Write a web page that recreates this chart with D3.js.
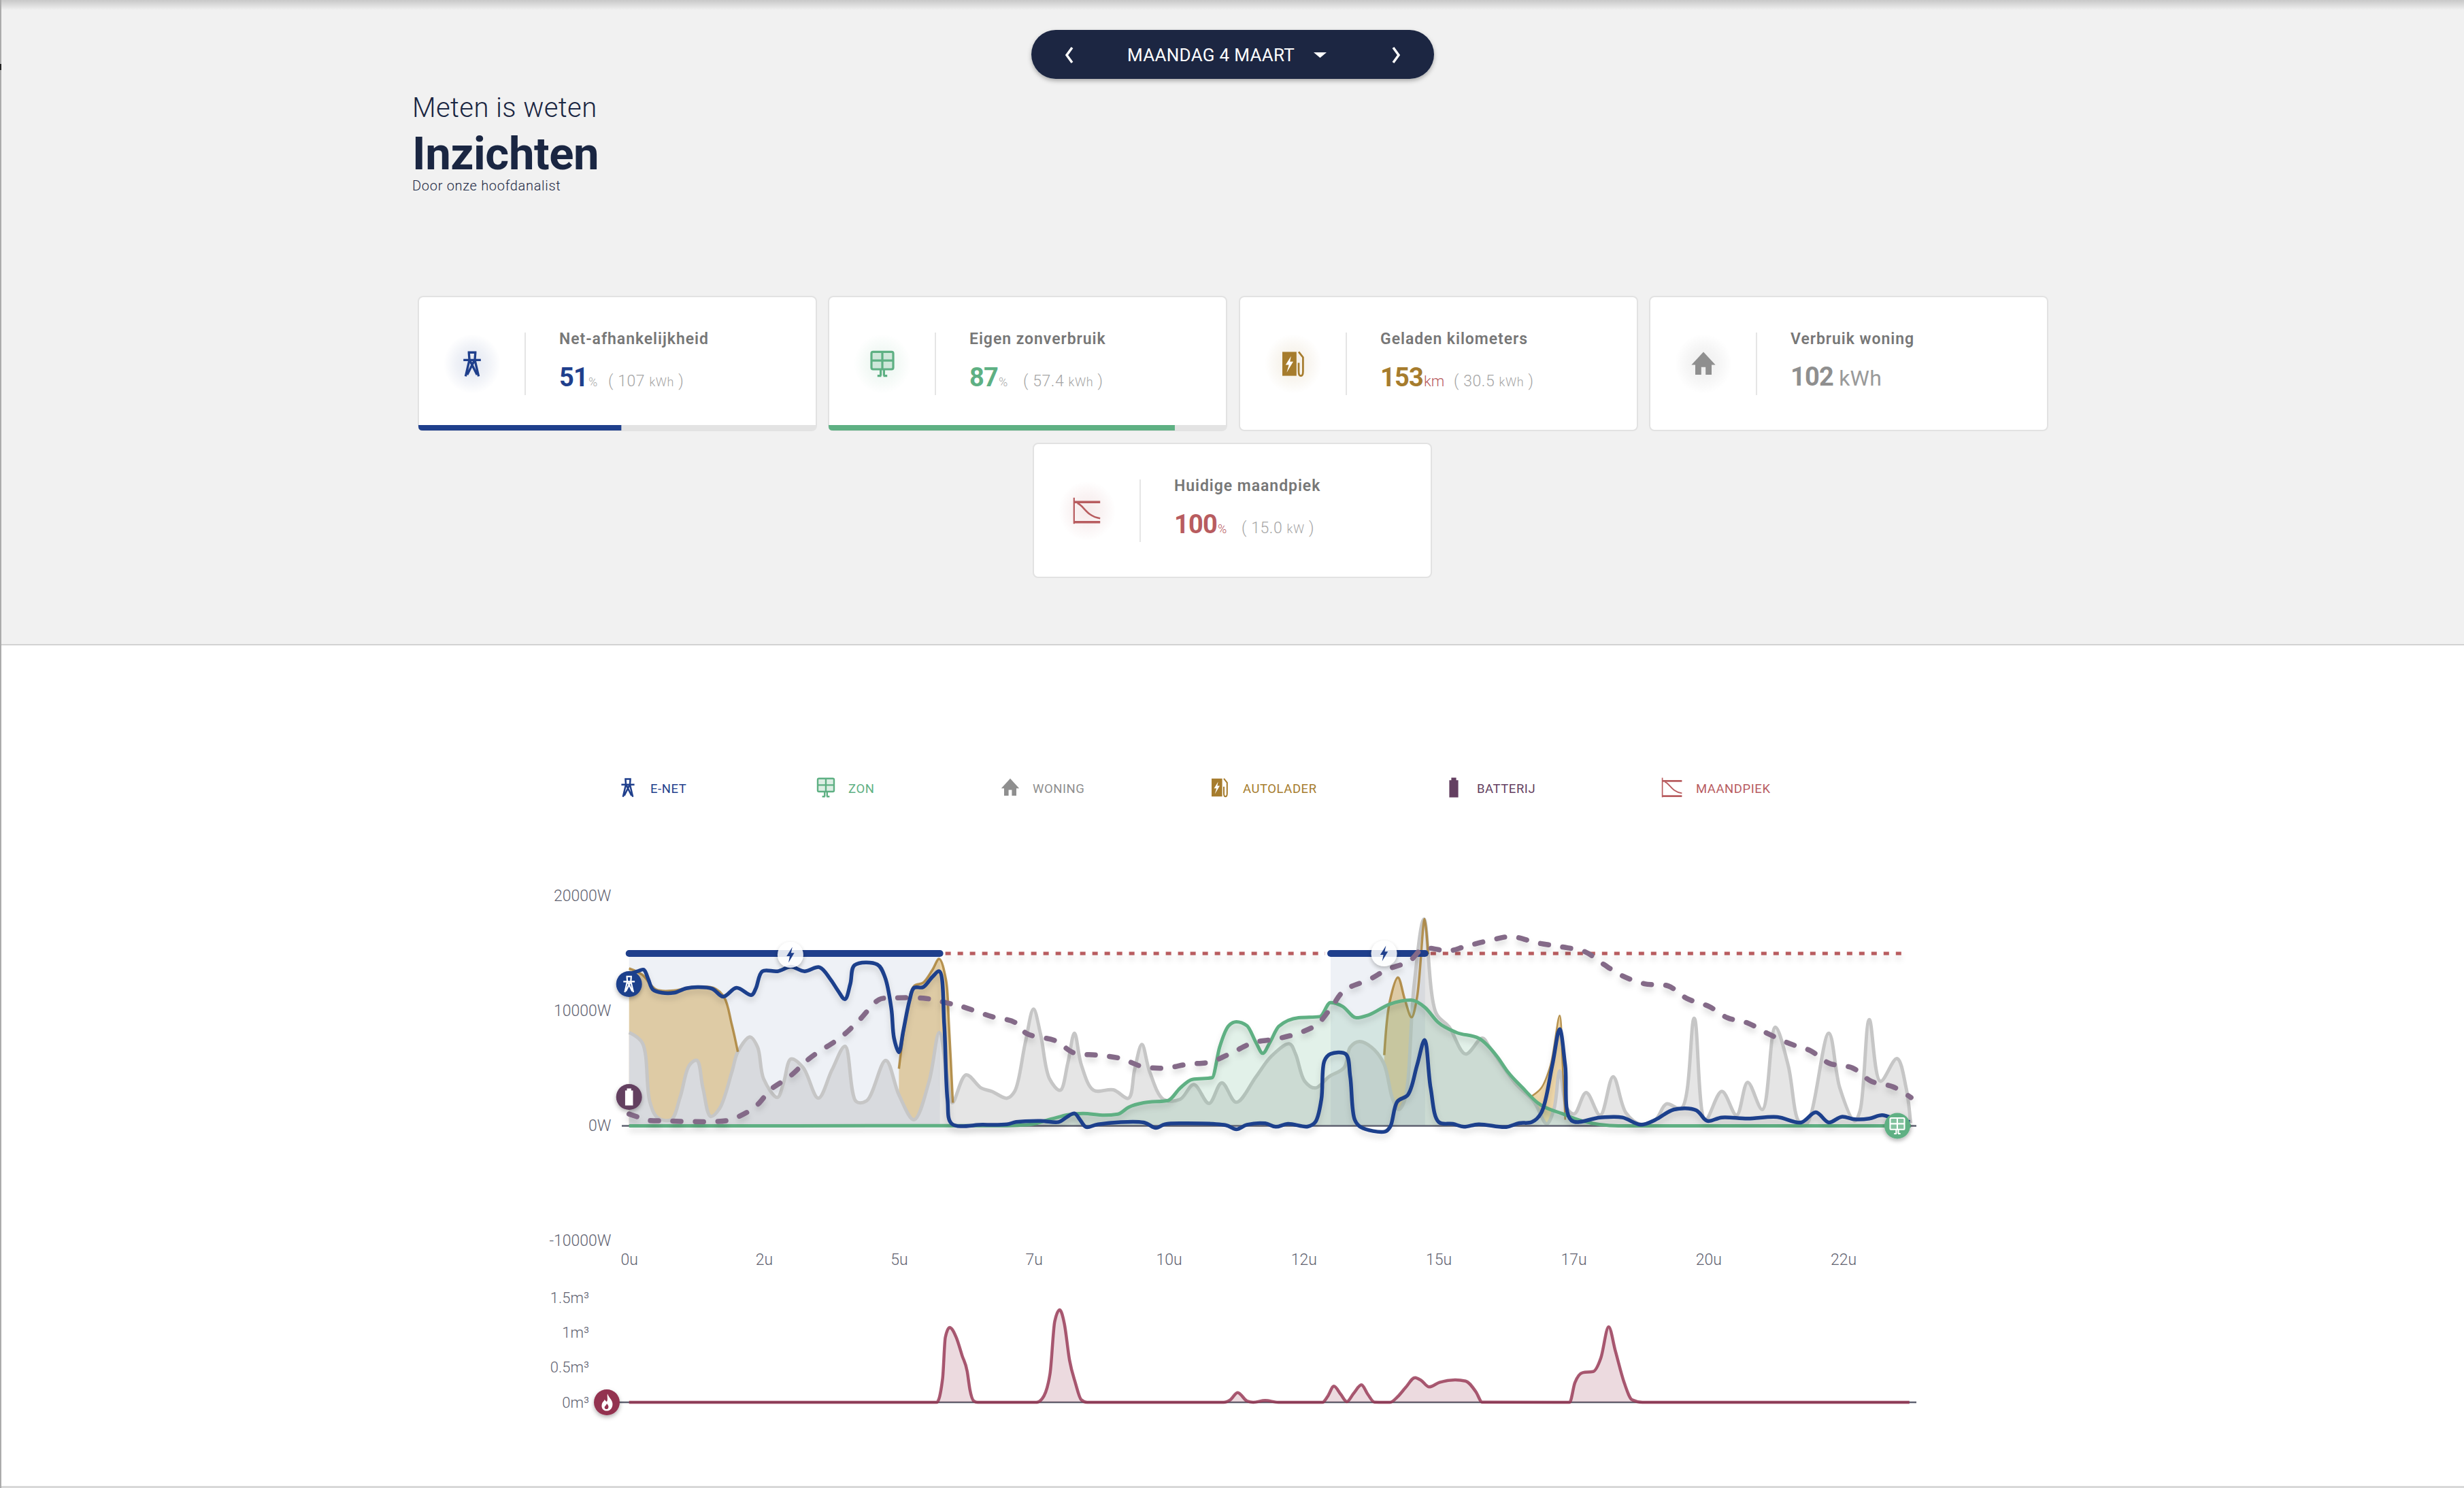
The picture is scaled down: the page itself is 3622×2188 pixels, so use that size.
<!DOCTYPE html>
<html><head><meta charset="utf-8">
<script src="https://cdn.jsdelivr.net/npm/d3@7/dist/d3.min.js"></script>
<style>
html,body{margin:0;padding:0;background:#fff;overflow:hidden}
svg{display:block}
text{font-family:Roboto,sans-serif}
</style></head><body><svg id="c" width="3622" height="2188" viewBox="0 0 3622 2188"></svg>
<script>
// ---- data (hours of day, watts) ----
const xTickHours=[0,2.5,5,7.5,10,12.5,15,17.5,20,22.5];
const powerTicks=[-10000,0,10000,20000];
const gasTicks=[0,0.5,1,1.5];
const peakLimit=15000;
const peakBandStart=[0,13.0];
const peakBandEnd=[5.76,14.75];
const peakDotStart=[5.76,14.75];
const peakDotEnd=[13.0,23.8];

const homeH=[0,.244,.384,.525,.778,.947,1.116,1.256,1.369,1.51,1.678,1.904,2.016,2.241,2.382,2.494,2.748,2.86,3,3.226,3.507,3.76,4.003,4.21,4.408,4.757,5,5.28,5.56,5.747,5.9,5.991,6.244,6.526,6.723,7.004,7.145,7.342,7.494,7.623,7.792,7.989,8.13,8.253,8.383,8.608,8.974,9.255,9.367,9.503,9.649,9.902,10.21,10.465,10.746,10.983,11.253,11.618,11.9,12.237,12.35,12.519,12.716,12.969,13.25,13.363,13.532,13.757,13.982,14.151,14.263,14.376,14.545,14.73,14.955,15.194,15.5,15.809,15.946,16.424,16.765,17.004,17.141,17.244,17.38,17.517,17.735,17.995,18.234,18.473,18.746,19.019,19.224,19.498,19.737,19.942,20.249,20.522,20.727,21,21.239,21.478,21.683,21.82,22.23,22.435,22.708,22.81,22.981,23.186,23.494,23.664,23.746];
const homeW=[8125,7237,2110,730,532,2504,5265,5699,3293,828,1518,4674,6448,7730,6843,4082,2465,3688,5817,5068,2406,4871,6922,2110,2209,5699,2702,532,3885,8125,4082,2011,4437,3293,2997,2406,2997,7237,10156,8026,4082,3096,5462,8065,5265,3096,3135,2406,4871,7079,4674,2307,2307,3589,1952,3747,2051,4279,6054,7139,6251,3885,3293,4279,5068,6843,7336,6843,5462,2307,1420,2307,12167,17985,9800,8618,6251,7632,6843,3688,2110,177,1518,4772,1518,1045,2899,927,4279,1124,138,532,1913,1518,9367,532,2997,927,3786,1420,8578,5265,335,177,8065,3293,434,1321,9249,3885,5857,3293,237];

const chargeH=[[0,.244,.497,.83,1.17,1.566,1.763,1.904,2.016],[5,5.139,5.28,5.449,5.618,5.747,5.871,5.927,6],[13.993,14.094,14.247,14.376,14.5,14.601,14.742,14.805],[16.731,16.902,17.073,17.244,17.298,17.346]];
const chargeW=[[13705,13153,11871,11773,12069,12009,11181,8815,6448],[4970,9604,12167,12463,13548,14534,12759,8815,2011],[6153,10787,12917,10984,9446,11181,17985,14928],[2603,3293,5265,9604,5265,532]];

const gridH=[0,.159,.27,.356,.44,.61,.83,1.06,1.28,1.54,1.746,1.99,2.27,2.35,2.47,2.75,3,3.25,3.53,3.73,3.87,4,4.1,4.18,4.6,4.74,4.86,4.91,5,5.08,5.2,5.28,5.45,5.62,5.75,5.84,5.9,5.98,6.554,7.004,7.173,7.623,7.961,8.101,8.253,8.355,8.467,8.692,9.536,9.761,9.93,10.268,11.056,11.253,11.45,11.787,11.984,12.209,12.575,12.716,12.828,12.885,12.997,13.279,13.363,13.447,13.56,14.01,14.106,14.235,14.432,14.601,14.742,14.853,15.003,15.263,15.468,15.741,16.253,16.492,16.731,16.902,17.107,17.244,17.346,17.462,17.995,18.405,18.746,19.019,19.361,19.771,19.976,20.249,20.727,21.274,21.717,21.99,22.23,22.469,22.708,22.981,23.22,23.494,23.733];
const gridW=[13200,13450,13590,12760,11870,11580,11580,11970,12070,11930,11240,12010,11380,11970,13450,13450,13840,13450,13800,12760,11770,11020,12360,13980,14040,12960,10200,7630,6410,8220,10980,12010,12070,12960,13450,8810,2310,180,99,138,335,434,335,730,1085,532,-99,138,296,-177,138,217,59,-296,99,217,-79,177,-59,335,2307,5660,6251,6251,4279,532,-118,-493,-59,2110,2702,5265,7474,3293,335,177,-79,138,-99,237,335,1124,5265,8420,5265,473,730,730,99,532,1420,1361,434,730,631,769,296,1183,296,789,572,631,927,532,335];

const solarH=[0,7.004,7.398,7.848,8.13,8.411,8.805,9.058,9.255,9.536,9.987,10.212,10.437,10.802,10.943,11.112,11.253,11.45,11.618,11.742,11.872,12.04,12.406,12.8,12.997,13.222,13.475,13.7,14.094,14.489,14.75,14.99,15.331,15.741,16.082,16.287,16.56,16.834,17.312,17.653,18.336,23.75];
const solarW=[0,20,99,631,966,1085,927,1025,1617,2011,2209,3293,4043,4181,6843,8716,9051,8716,7237,6310,7237,8657,9406,9505,10728,10392,9406,9643,10590,10945,10294,9012,8125,7632,6054,4674,3293,2011,1025,434,0,0];

const socH=[0,.187,.328,.694,1.116,1.538,1.876,2.326,2.635,2.973,3.367,3.93,4.267,4.633,4.858,5.505,5.9,6.16,6.723,7.145,7.37,7.904,8.242,8.692,9.114,9.508,9.93,10.352,10.774,11.168,11.562,11.956,12.378,12.744,13.025,13.25,13.729,14.038,14.46,14.716,15.194,15.5,16.014,16.356,16.834,17.278,17.722,18.063,18.405,18.815,19.259,19.6,20.01,20.351,20.727,21.103,21.513,21.888,22.23,22.674,23.015,23.426,23.753];
const socW=[1025,730,493,434,375,375,532,1617,3195,4279,5955,7730,9209,10984,11122,11083,10688,10392,9505,9012,8026,7395,6350,6153,5857,5167,5029,5364,5561,6350,7237,7533,8026,8815,10392,11773,12759,13587,14337,15421,15224,15618,16210,16466,15914,15579,15125,14041,13054,12364,12167,11083,10392,9406,8953,8026,7139,6547,5462,5029,3885,3392,2465];

const gasH=[0,5.701,5.81,5.86,5.94,6.063,6.172,6.266,6.316,6.389,6.461,7.547,7.655,7.8,7.887,7.98,8.067,8.162,8.27,8.379,8.487,11.016,11.14,11.276,11.45,11.565,11.787,12.03,12.848,12.944,13.06,13.185,13.3,13.427,13.571,13.687,13.812,14.1,14.246,14.391,14.564,14.68,14.825,15.018,15.307,15.5,15.693,15.808,17.428,17.525,17.67,17.862,18.007,18.152,18.277,18.441,18.586,18.778,23.725];
const gasV=[0,0,.344,.929,1.071,.929,.669,.442,.182,.019,0,0,.052,.409,1.156,1.325,1.123,.604,.279,.036,0,0,.036,.14,.019,0,.026,0,0,.084,.231,.117,.01,.13,.25,.117,.003,0,.084,.214,.354,.312,.221,.286,.321,.305,.149,.003,0,.279,.425,.44,.636,1.08,.734,.279,.036,0,0];

const xTickLabel=h=>Math.floor(h)+"u";
const legendNames=["E-NET","ZON","WONING","AUTOLADER","BATTERIJ","MAANDPIEK"];
const cardTitles=["Net-afhankelijkheid","Eigen zonverbruik","Geladen kilometers","Verbruik woning","Huidige maandpiek"];
const cardValues=["51","87","153","102","100"];
const cardUnits=["%","%","km"," kWh","%"];
const cardDetail=["107","57.4","30.5","","15.0"];
const cardDetailUnit=["kWh","kWh","kWh","","kW"];
const cardProgress=[51,87,null,null,null];

// ---- colours ----
const navy="#1a2642",blue="#1f3f8c",green="#5eb083",gold="#a67c2d",grey="#8f8f8f",plum="#643f61",red="#b85c5f",gas="#93314f";
const svg=d3.select("#c");
const defs=svg.append("defs");
function shadow(id,dy,sd,op){const f=defs.append("filter").attr("id",id).attr("filterUnits","userSpaceOnUse").attr("x",0).attr("y",0).attr("width",3622).attr("height",2188);
 f.append("feDropShadow").attr("dx",0).attr("dy",dy).attr("stdDeviation",sd).attr("flood-color","#000").attr("flood-opacity",op);}
shadow("ls",6,4,.14);shadow("ps",3,3,.3);
const topGrad=defs.append("linearGradient").attr("id","tg").attr("x1",0).attr("y1",0).attr("x2",0).attr("y2",1);
topGrad.append("stop").attr("offset",0).attr("stop-color","#c8c8c8");
topGrad.append("stop").attr("offset",1).attr("stop-color","#f1f1f1");
[["h0",blue],["h1",green],["h2",gold],["h3","#777"],["h4",red]].forEach(([id,c])=>{
 const g=defs.append("radialGradient").attr("id",id);
 g.append("stop").attr("offset",0).attr("stop-color",c).attr("stop-opacity",.13);
 g.append("stop").attr("offset",.55).attr("stop-color",c).attr("stop-opacity",.07);
 g.append("stop").attr("offset",1).attr("stop-color",c).attr("stop-opacity",0);
});

// ---- icons, in a 24-unit box centred on 0,0 ----
const icons={
 tower:(g,c)=>{g.append("path").attr("fill","none").attr("stroke",c).attr("stroke-width",2.1).attr("d","M-4-10.5H4M-3-10.5L-2.5-4M3-10.5L2.5-4M-8-3.5H8M-2.5-3.5L-6 11.5M2.5-3.5L6 11.5M-2-3L4.5 10M2-3L-4.5 10");},
 solar:(g,c)=>{g.append("rect").attr("x",-10).attr("y",-11).attr("width",20).attr("height",16).attr("rx",1.5).attr("fill",c).attr("fill-opacity",.22).attr("stroke",c).attr("stroke-width",2);
   g.append("path").attr("stroke",c).attr("stroke-width",2).attr("fill","none").attr("d","M0-11V5M-10-3H10M-1.5 5V11M1.5 5V11M-4.5 11H-1M1 11H4.5");},
 house:(g,c)=>{g.append("path").attr("fill",c).attr("d","M0-11L11 1H7.5V10H2V3H-2V10H-7.5V1H-11Z");},
 charger:(g,c)=>{g.append("path").attr("fill",c).attr("d","M-10-11H3V11H-10Z");
   g.append("path").attr("fill","#fff").attr("d","M-2-7L-7 1H-4L-6 8L0-2H-3Z");
   g.append("path").attr("fill","none").attr("stroke",c).attr("stroke-width",1.7).attr("d","M5-11L9-6V7Q9 11 7 11T5 7V-1");},
 battery:(g,c)=>{g.append("path").attr("fill",c).attr("d","M-3-12H3V-9H5.5V12H-5.5V-9H-3Z");},
 peak:(g,c)=>{g.append("path").attr("fill","none").attr("stroke",c).attr("stroke-width",1.4).attr("d","M-12-12V12");
   g.append("path").attr("fill","none").attr("stroke",c).attr("stroke-width",2.2).attr("d","M-12 10.5H12M-12-8H12");
   g.append("path").attr("fill","none").attr("stroke",c).attr("stroke-width",1.6).attr("d","M-9-7C-3-5-1 5 12 7");},
 flame:(g,c)=>{g.append("path").attr("fill",c).attr("d","M1-12C3-6 9-3 8 4C7 10 3 12 0 12C-5 12-8 8-7 3C-6-1-4-1-3-4C-2-2-1-1 0-1C2-4 0-8 1-12Z");
   g.append("path").attr("fill","#93314f").attr("d","M0 2C2 4 3 6 2 8C1 10-2 10-3 8C-4 6-1 5 0 2Z");},
 bolt:(g,c)=>{g.append("path").attr("fill",c).attr("d","M3-12L-6 2H-1L-3 12L6-3H1Z");}
};
function icon(name,x,y,s,c){const g=svg.append("g").attr("transform",`translate(${x},${y}) scale(${s})`);icons[name](g,c);return g;}

// ---- page chrome ----
svg.append("rect").attr("width",3622).attr("height",947).attr("fill","#f1f1f1");
svg.append("rect").attr("width",3622).attr("height",15).attr("fill","url(#tg)");
svg.append("rect").attr("y",947).attr("width",3622).attr("height",2).attr("fill","#d2d2d2");
svg.append("rect").attr("y",2185).attr("width",3622).attr("height",3).attr("fill","#d8d8d8");
svg.append("rect").attr("width",2).attr("height",2188).attr("fill","#ababab");
svg.append("rect").attr("y",94).attr("width",2).attr("height",9).attr("fill","#222");
svg.append("rect").attr("x",1516).attr("y",44).attr("width",592).attr("height",72).attr("rx",36).attr("fill",navy).attr("filter","url(#ps)");
svg.append("text").attr("x",1780).attr("y",90).attr("text-anchor","middle").attr("font-size",26).attr("font-weight",400).attr("letter-spacing",.3).attr("fill","#fff").text("MAANDAG 4 MAART");
svg.append("path").attr("fill","none").attr("stroke","#fff").attr("stroke-width",3.5).attr("d","M1576 70L1568 81L1576 92M2048 70L2056 81L2048 92");
svg.append("path").attr("fill","#fff").attr("d","M1931 77H1950L1940.5 85Z");
svg.append("text").attr("x",606).attr("y",172).attr("font-size",40).attr("font-weight",300).attr("letter-spacing",.4).attr("fill",navy).text("Meten is weten");
svg.append("text").attr("x",606).attr("y",249).attr("font-size",67).attr("font-weight",700).attr("letter-spacing",-.4).attr("fill",navy).text("Inzichten");
svg.append("text").attr("x",606).attr("y",280).attr("font-size",20).attr("font-weight",300).attr("letter-spacing",.7).attr("fill",navy).text("Door onze hoofdanalist");

// ---- cards ----
const cardX=[615,1218,1822,2425,1519],cardY=[436,436,436,436,652];
const cardColour=[blue,green,gold,grey,red],cardIcon=["tower","solar","charger","house","peak"];
const detailX=[279,286,315,0,306];
cardTitles.forEach((t,i)=>{
 const x=cardX[i],y=cardY[i];
 const g=svg.append("g").attr("transform",`translate(${x},${y})`);
 g.append("rect").attr("x",0).attr("y",0).attr("width",585).attr("height",197).attr("rx",7).attr("fill","#fff").attr("stroke","#e2e2e2").attr("stroke-width",2);
 if(cardProgress[i]!==null){
  g.append("path").attr("d","M0 189H585V191Q585 197 579 197H6Q0 197 0 191Z").attr("fill","#e3e3e3");
  const w=585*cardProgress[i]/100;
  g.append("path").attr("d",`M0 189H${w}V197H6Q0 197 0 191Z`).attr("fill",cardColour[i]);
 }
 g.append("ellipse").attr("cx",79).attr("cy",99).attr("rx",42).attr("ry",44).attr("fill",`url(#h${i})`);
 g.append("line").attr("x1",157).attr("x2",157).attr("y1",53).attr("y2",145).attr("stroke","#ddd").attr("stroke-width",1.5);
 g.append("text").attr("x",207).attr("y",70).attr("font-size",23).attr("font-weight",600).attr("letter-spacing",.95).attr("fill","#777").text(t);
 const v=g.append("text").attr("x",207).attr("y",i===3?131:132).attr("fill",cardColour[i]);
 v.append("tspan").attr("font-size",38).attr("font-weight",700).attr("letter-spacing",-.8).text(cardValues[i]);
 if(i===3){v.append("tspan").attr("font-size",32).attr("font-weight",400).attr("fill","#9a9a9a").attr("letter-spacing",.2).text(cardUnits[i]);}
 else{
  v.append("tspan").attr("font-size",i===2?22:18).attr("font-weight",300).attr("fill",i===0||i===1?"#aaa":red).attr("dx",1).text(cardUnits[i]);
  const d=g.append("text").attr("x",detailX[i]).attr("y",132).attr("font-size",23).attr("font-weight",300).attr("letter-spacing",.6).attr("fill","#a5a5a5");
  d.append("tspan").text("( "+cardDetail[i]+" ");
  d.append("tspan").attr("font-size",18).text(cardDetailUnit[i]);
  d.append("tspan").text(" )");
 }
});
// card icons drawn in page space
cardIcon.forEach((n,i)=>icon(n,cardX[i]+79,cardY[i]+99,1.6,cardColour[i]));

// ---- legend ----
const legendIconX=[923,1214,1485,1793,2137,2458],legendTextX=[956,1247,1518,1827,2171,2493];
const legendColour=[blue,green,grey,gold,plum,red],legendIcon=["tower","solar","house","charger","battery","peak"];
legendNames.forEach((n,i)=>{
 icon(legendIcon[i],legendIconX[i],1158,1.2,legendColour[i]);
 svg.append("text").attr("x",legendTextX[i]).attr("y",1165.5).attr("font-size",18.5).attr("font-weight",400).attr("letter-spacing",.55).attr("fill",legendColour[i]).text(n);
});

// ---- scales ----
const x=d3.scaleLinear().domain([0,23.75]).range([924.7,924.7+79.33*23.75]);
const y=d3.scaleLinear().domain([-10000,20000]).range([1824.5,1317.5]);
const yGas=d3.scaleLinear().domain([0,1.5]).range([2062,1908]);
const chart=svg.append("g");
const smooth=d3.curveCatmullRom.alpha(.5),flat=d3.curveMonotoneX;

const lineOf=(H,V,sc,cv=smooth)=>d3.line().x(i=>x(H[i])).y(i=>sc(V[i])).curve(cv)(d3.range(H.length));
const areaOf=(H,V,sc,cv=smooth)=>d3.area().x(i=>x(H[i])).y0(sc(0)).y1(i=>sc(V[i])).curve(cv)(d3.range(H.length));

// axes
const yAxis=d3.axisLeft(y).tickValues(powerTicks).tickFormat(d=>d+"W").tickSize(0).tickPadding(0);
const yG=chart.append("g").attr("transform","translate(898.5,0)").call(yAxis);
const xAxis=d3.axisBottom(x).tickValues(xTickHours).tickFormat(xTickLabel).tickSize(0).tickPadding(0);
const xG=chart.append("g").attr("transform","translate(0,1859.5)").call(xAxis);
const gAxis=d3.axisLeft(yGas).tickValues(gasTicks).tickFormat(d=>d+"m³").tickSize(0).tickPadding(0);
const gG=chart.append("g").attr("transform","translate(866,0)").call(gAxis);
[yG,xG,gG].forEach(g=>{g.select(".domain").remove();g.selectAll("text").attr("font-size",23).attr("font-weight",300).attr("font-family","Roboto").attr("fill","#5f6270");});
xG.selectAll("text").attr("dy",0);
gG.selectAll("text").attr("font-size",22);

// charger fill, masked by the home area
chargeH.forEach((H,k)=>chart.append("path").attr("d",areaOf(H,chargeW[k],y)).attr("fill","#eed6a8"));
chart.append("path").attr("d",areaOf(homeH,homeW,y)).attr("fill","#fff");
// peak bands
peakBandStart.forEach((s,k)=>chart.append("rect").attr("x",x(s)).attr("width",x(peakBandEnd[k])-x(s)).attr("y",y(peakLimit)).attr("height",y(0)-y(peakLimit)).attr("fill",blue).attr("opacity",.075));
// home
chart.append("path").attr("d",areaOf(homeH,homeW,y)).attr("fill","#8f8f8f").attr("opacity",.23);
chart.append("path").attr("d",lineOf(homeH,homeW,y)).attr("fill","none").attr("stroke","#c6c6c6").attr("stroke-width",5);
// charger lines
chargeH.forEach((H,k)=>chart.append("path").attr("d",lineOf(H,chargeW[k],y)).attr("fill","none").attr("stroke",gold).attr("stroke-opacity",.8).attr("stroke-width",k===3?2.5:3.5));
// solar
chart.append("path").attr("d",areaOf(solarH,solarW,y,flat)).attr("fill",green).attr("opacity",.18);
// axis baseline
chart.append("line").attr("x1",914).attr("x2",2817).attr("y1",y(0)).attr("y2",y(0)).attr("stroke","#5f6270").attr("stroke-width",2.5);
chart.append("path").attr("d",lineOf(solarH,solarW,y,flat)).attr("fill","none").attr("stroke",green).attr("stroke-width",5).attr("filter","url(#ls)");
// peak line
peakDotStart.forEach((s,k)=>chart.append("line").attr("x1",x(s)+8).attr("x2",x(peakDotEnd[k])-8).attr("y1",y(peakLimit)).attr("y2",y(peakLimit)).attr("stroke",red).attr("stroke-width",5).attr("stroke-dasharray","8 10").attr("filter","url(#ls)"));
peakBandStart.forEach((s,k)=>chart.append("line").attr("x1",x(s)).attr("x2",x(peakBandEnd[k])).attr("y1",y(peakLimit)).attr("y2",y(peakLimit)).attr("stroke",blue).attr("stroke-width",10).attr("stroke-linecap","round"));
// battery
chart.append("path").attr("d",lineOf(socH,socW,y)).attr("fill","none").attr("stroke","#846a88").attr("stroke-width",7.5).attr("stroke-linecap","round").attr("stroke-dasharray","12 21").attr("filter","url(#ls)");
// grid
chart.append("path").attr("d",lineOf(gridH,gridW,y)).attr("fill","none").attr("stroke",blue).attr("stroke-width",5.5).attr("filter","url(#ls)");

// markers
function marker(cx,cy,fill,name){
 svg.append("circle").attr("cx",cx).attr("cy",cy).attr("r",19).attr("fill",fill).attr("filter","url(#ps)");
 icon(name,cx,cy,1.05,"#fff");
}
marker(x(0),1447,blue,"tower");
marker(x(0),1613,plum,"battery");
marker(x(23.5),y(0),green,"solar");
[[x(2.99),1404],[x(13.99),1402]].forEach(([cx,cy])=>{
 svg.append("circle").attr("cx",cx).attr("cy",cy).attr("r",19).attr("fill","#fff").attr("opacity",.86).attr("filter","url(#ps)");
 icon("bolt",cx,cy,.95,blue);
});

// gas chart
chart.append("line").attr("x1",892).attr("x2",2817).attr("y1",yGas(0)).attr("y2",yGas(0)).attr("stroke","#5f6270").attr("stroke-width",2.5);
chart.append("path").attr("d",areaOf(gasH,gasV,yGas,flat)).attr("fill",gas).attr("opacity",.18);
chart.append("path").attr("d",lineOf(gasH,gasV,yGas,flat)).attr("fill","none").attr("stroke",gas).attr("stroke-opacity",.8).attr("stroke-width",4.5);
marker(892,yGas(0),gas,"flame");
</script></body></html>
